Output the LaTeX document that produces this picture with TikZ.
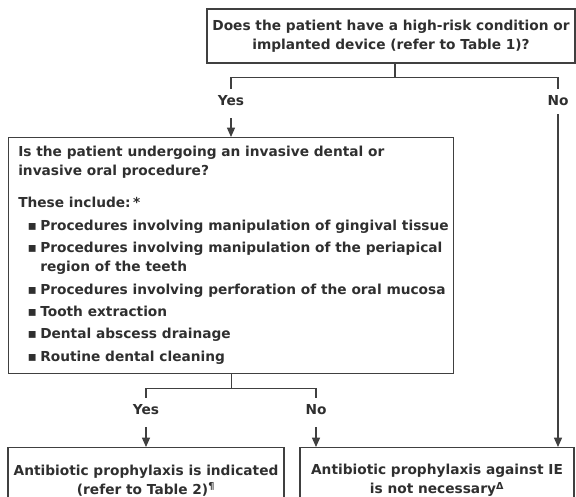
\documentclass[tikz,border=0pt]{standalone}
\usepackage{fontspec}
\setmainfont{DejaVu Sans}
\usepackage{tikz}
\usetikzlibrary{arrows.meta, positioning, calc}
\definecolor{InkGray}{HTML}{2F2F2F}
\definecolor{LineGray}{HTML}{404040}
\newcommand{\sqbul}{\hspace*{7pt}\makebox[9.5pt][l]{▪}}
\newcommand{\hangon}{\hspace*{16.5pt}}

\begin{document}
\begin{tikzpicture}[
    x=0.75pt, y=-0.75pt,
    qbox/.style={rectangle, draw=LineGray, line width=1pt, text=InkGray,
                 font=\fontsize{10.3}{14.25}\selectfont\bfseries, align=center, inner sep=0pt},
    listtext/.style={text=InkGray, font=\fontsize{10.3}{14.25}\selectfont\bfseries,
                 align=left, inner sep=0pt},
    answer/.style={text=InkGray, font=\fontsize{10.3}{14.25}\selectfont\bfseries, inner sep=1pt},
    link/.style={draw=LineGray, line width=1pt},
    arr/.style={link, -{Triangle[length=7pt, width=6pt]}}
]
    \clip (0,0) rectangle (576,497);

    % Questions
    \node[qbox, minimum width=276pt, minimum height=40.5pt] (risk) at (391,36)
        {Does the patient have a high-risk condition or\\implanted device (refer to Table 1)?};
    \node[qbox, anchor=north west, minimum width=333.75pt, minimum height=177pt] (invasive) at (8,137) {};
    \node[listtext, anchor=north west] (proclist) at ($(invasive.north west)+(10,9)$) {%
        Is the patient undergoing an invasive dental or\\
        invasive oral procedure?\\[9.5pt]
        These include:\,*\\[3pt]
        \sqbul Procedures involving manipulation of gingival tissue\\[2.5pt]
        \sqbul Procedures involving manipulation of the periapical\\
        \hangon region of the teeth\\[2.5pt]
        \sqbul Procedures involving perforation of the oral mucosa\\[2.5pt]
        \sqbul Tooth extraction\\[2.5pt]
        \sqbul Dental abscess drainage\\[2.5pt]
        \sqbul Routine dental cleaning};

    % Outcomes
    \node[qbox, anchor=north, minimum width=207pt, minimum height=49.5pt] (indicated) at (146,447)
        {Antibiotic prophylaxis is indicated\\(refer to Table 2)\textsuperscript{¶}};
    \node[qbox, anchor=north, minimum width=205.5pt, minimum height=49.5pt] (notneeded) at (437,447)
        {Antibiotic prophylaxis against IE\\is not necessary\textsuperscript{Δ}};

    % Answers
    \node[answer] (yes1) at (231,101) {Yes};
    \node[answer] (no1) at (558,101) {No};
    \node[answer] (yes2) at (146,410) {Yes};
    \node[answer] (no2) at (316,410) {No};

    % Forks
    \coordinate (fork1) at ($(risk.south)+(4,14)$);
    \coordinate (fork2) at ($(invasive.south)+(0,14)$);
    \draw[link] (risk.south -| fork1) -- (fork1);
    \draw[link] ([yshift=4pt]yes1.north) |- (fork1) -| ([yshift=4pt]no1.north);
    \draw[link] (invasive.south) -- (fork2);
    \draw[link] ([yshift=4pt]yes2.north) |- (fork2) -| ([yshift=4pt]no2.north);

    % Arrows
    \draw[arr] ([yshift=-8pt]yes1.south) -- (yes1.south |- invasive.north);
    \draw[arr] ([yshift=-5pt]no1.south) -- (no1.south |- notneeded.north);
    \draw[arr] ([yshift=-8pt]yes2.south) -- (yes2.south |- indicated.north);
    \draw[arr] ([yshift=-8pt]no2.south) -- (no2.south |- notneeded.north);
\end{tikzpicture}
\end{document}
